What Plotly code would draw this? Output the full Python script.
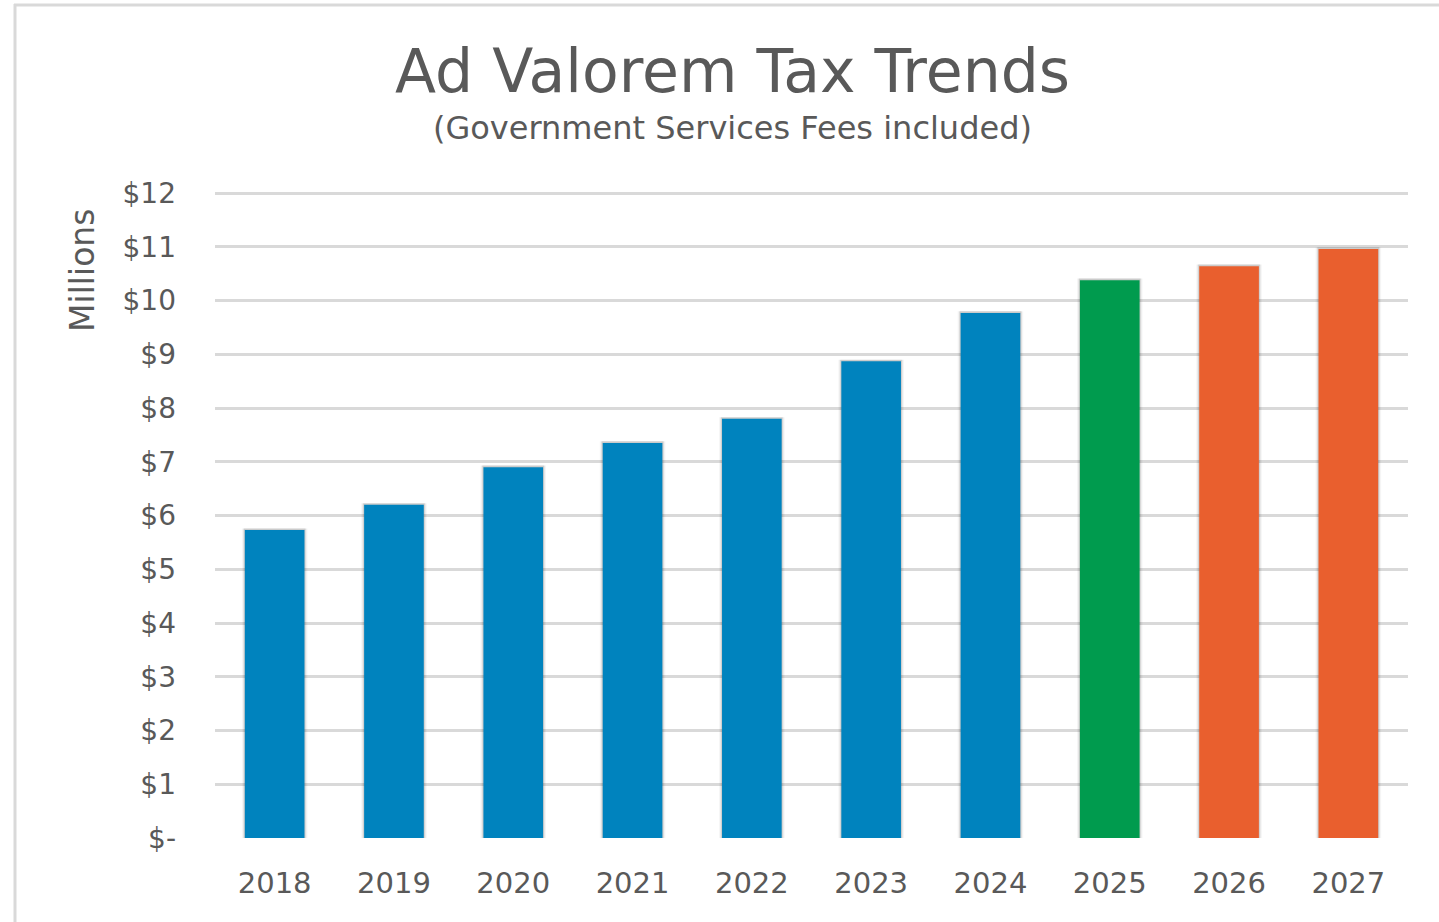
import plotly.graph_objects as go

# Ad valorem tax collections, in millions of dollars
years = ["2018", "2019", "2020", "2021", "2022", "2023", "2024", "2025", "2026", "2027"]
tax_millions = [5.73, 6.20, 6.90, 7.35, 7.80, 8.87, 9.77, 10.38, 10.64, 10.96]
bar_colors = ["#0083BE"] * 7 + ["#009B4E"] + ["#E95F2E"] * 2

tick_vals = list(range(0, 13))
tick_text = ["$-"] + [f"${v}" for v in range(1, 13)]

FONT = "DejaVu Sans"
GREY = "#595959"

W, H = 1439, 922
L, R, T, B = 215, 31, 192, 84
pw, ph = W - L - R, H - T - B


def px_x(x):
    return (x - L) / pw


def px_y(y):
    return (H - B - y) / ph


fig = go.Figure()

# soft halo behind each column
for w, a in [(0.55, 0.04), (0.53, 0.07), (0.515, 0.10)]:
    fig.add_trace(go.Bar(
        x=years, y=[v + 0.03 for v in tax_millions], width=w,
        marker=dict(color=f"rgba(0,0,0,{a})", line=dict(width=0)),
        hoverinfo="skip", showlegend=False,
    ))
fig.add_trace(go.Bar(
    x=years, y=tax_millions, width=0.5,
    marker=dict(color=bar_colors, line=dict(width=0)),
    showlegend=False,
))

fig.update_layout(
    width=W, height=H,
    margin=dict(l=L, r=R, t=T, b=B),
    paper_bgcolor="white", plot_bgcolor="white",
    barmode="overlay",
    font=dict(family=FONT, color=GREY),
    xaxis=dict(
        type="category", showgrid=False, zeroline=False, showline=False,
        ticks="", tickfont=dict(size=29, color=GREY), ticklabelstandoff=25,
    ),
    yaxis=dict(
        range=[0, 12.02], tickvals=tick_vals, ticktext=tick_text,
        showgrid=True, gridcolor="#D9D9D9", gridwidth=2.5,
        zeroline=False, showline=False, ticks="",
        tickfont=dict(size=28, color=GREY), ticklabelstandoff=38,
    ),
    annotations=[
        dict(text="Ad Valorem Tax Trends", x=px_x(732), y=px_y(71),
             xref="paper", yref="paper", xanchor="center", yanchor="middle",
             showarrow=False, font=dict(size=60, color=GREY, family=FONT)),
        dict(text="(Government Services Fees included)", x=px_x(732), y=px_y(128),
             xref="paper", yref="paper", xanchor="center", yanchor="middle",
             showarrow=False, font=dict(size=32, color=GREY, family=FONT)),
        dict(text="Millions", x=px_x(82), y=px_y(271), textangle=-90,
             xref="paper", yref="paper", xanchor="center", yanchor="middle",
             showarrow=False, font=dict(size=33, color=GREY, family=FONT)),
    ],
)

# outer chart frame (top and left edges)
fig.add_shape(type="line", xref="paper", yref="paper",
              x0=px_x(14), x1=px_x(1439), y0=px_y(5), y1=px_y(5),
              line=dict(color="#D9D9D9", width=3))
fig.add_shape(type="line", xref="paper", yref="paper",
              x0=px_x(15), x1=px_x(15), y0=px_y(4), y1=px_y(922),
              line=dict(color="#D9D9D9", width=3))

fig.write_html("out.html")
